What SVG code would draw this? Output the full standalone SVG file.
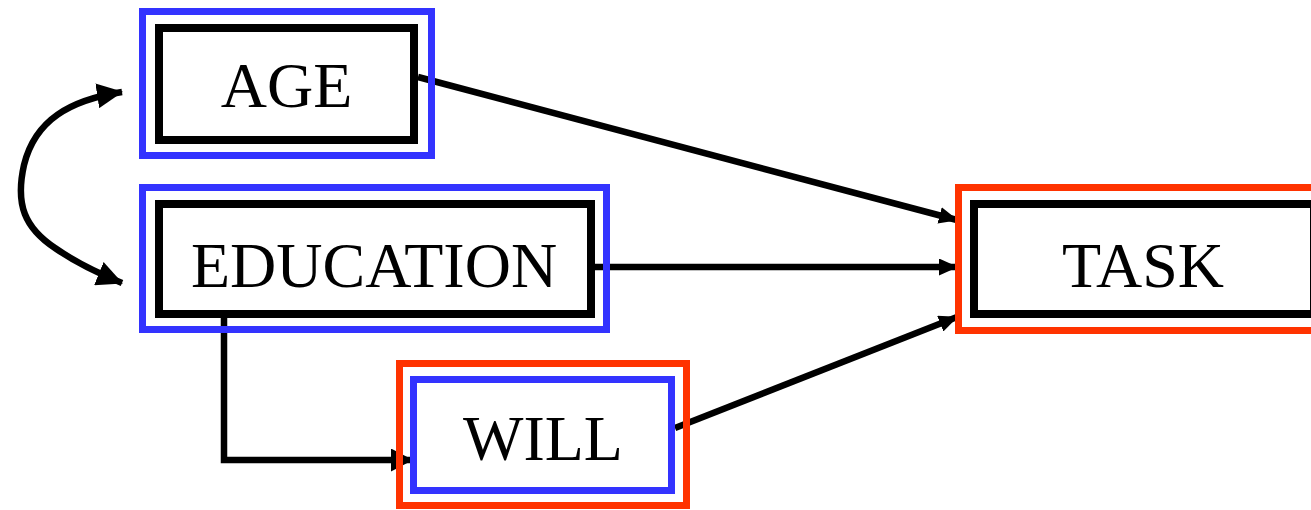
<svg xmlns="http://www.w3.org/2000/svg" width="1311" height="510" viewBox="0 0 1311 510">
  <style>
    .lbl { font-family: "Liberation Serif", "Times New Roman", serif; font-size: 64px; fill: #000; text-anchor: middle; }
    .blue { fill: none; stroke: #3333ff; stroke-width: 7; }
    .red { fill: none; stroke: #ff3300; stroke-width: 7; }
    .blk { fill: #fff; stroke: #000; stroke-width: 8; }
    .conn { fill: none; stroke: #000; stroke-width: 6.5; }
    .head { fill: #000; }
  </style>
  <defs>
    <!-- small head for links into TASK -->
    <marker id="arrow-s" markerUnits="userSpaceOnUse" markerWidth="19" markerHeight="17" refX="18" refY="8.5" orient="auto" viewBox="0 0 19 17">
      <path class="head" d="M0,0 L19,8.5 L0,17 Z"/>
    </marker>
    <!-- medium head for the elbow link into WILL -->
    <marker id="arrow-m" markerUnits="userSpaceOnUse" markerWidth="22" markerHeight="23" refX="21" refY="11.5" orient="auto" viewBox="0 0 22 23">
      <path class="head" d="M0,0 L22,11.5 L0,23 Z"/>
    </marker>
    <!-- large heads for the curved two-way link -->
    <marker id="arrow-l" markerUnits="userSpaceOnUse" markerWidth="26" markerHeight="25" refX="25" refY="12.5" orient="auto-start-reverse" viewBox="0 0 26 25">
      <path class="head" d="M0,0 L26,12.5 L0,25 Z"/>
    </marker>
  </defs>
  <rect width="1311" height="510" fill="#fff"/>

  <g id="connectors">
    <path class="conn" d="M418,77 L957,220" marker-end="url(#arrow-s)"/>
    <path class="conn" d="M595,267 L957,267" marker-end="url(#arrow-s)"/>
    <path class="conn" d="M675,428 L957,317" marker-end="url(#arrow-s)"/>
    <path class="conn" d="M224,318 L224,460 L412,460" marker-end="url(#arrow-m)"/>
    <path class="conn" stroke-width="7" d="M122,92 C70,100 35,120 24,165 C15,205 25,228 55,248 C75,262 95,272 122,283" marker-start="url(#arrow-l)" marker-end="url(#arrow-l)"/>
  </g>

  <g id="age">
    <rect class="blue" x="142.5" y="11.5" width="289" height="144"/>
    <rect class="blk" x="159" y="28" width="255" height="112"/>
    <text class="lbl" x="286.5" y="107">AGE</text>
  </g>

  <g id="education">
    <rect class="blue" x="142.5" y="187.5" width="464" height="142"/>
    <rect class="blk" x="159" y="204" width="432" height="110"/>
    <text class="lbl" x="374" y="287">EDUCATION</text>
  </g>

  <g id="will">
    <rect class="red" x="399.5" y="363.5" width="287" height="142"/>
    <rect class="blue" x="413.5" y="379.5" width="258" height="111"/>
    <text class="lbl" x="543" y="460">WILL</text>
  </g>

  <g id="task">
    <rect class="red" x="958.5" y="187.5" width="360" height="143"/>
    <rect class="blk" x="974" y="204" width="340" height="110"/>
    <text class="lbl" x="1143" y="287">TASK</text>
  </g>
</svg>
